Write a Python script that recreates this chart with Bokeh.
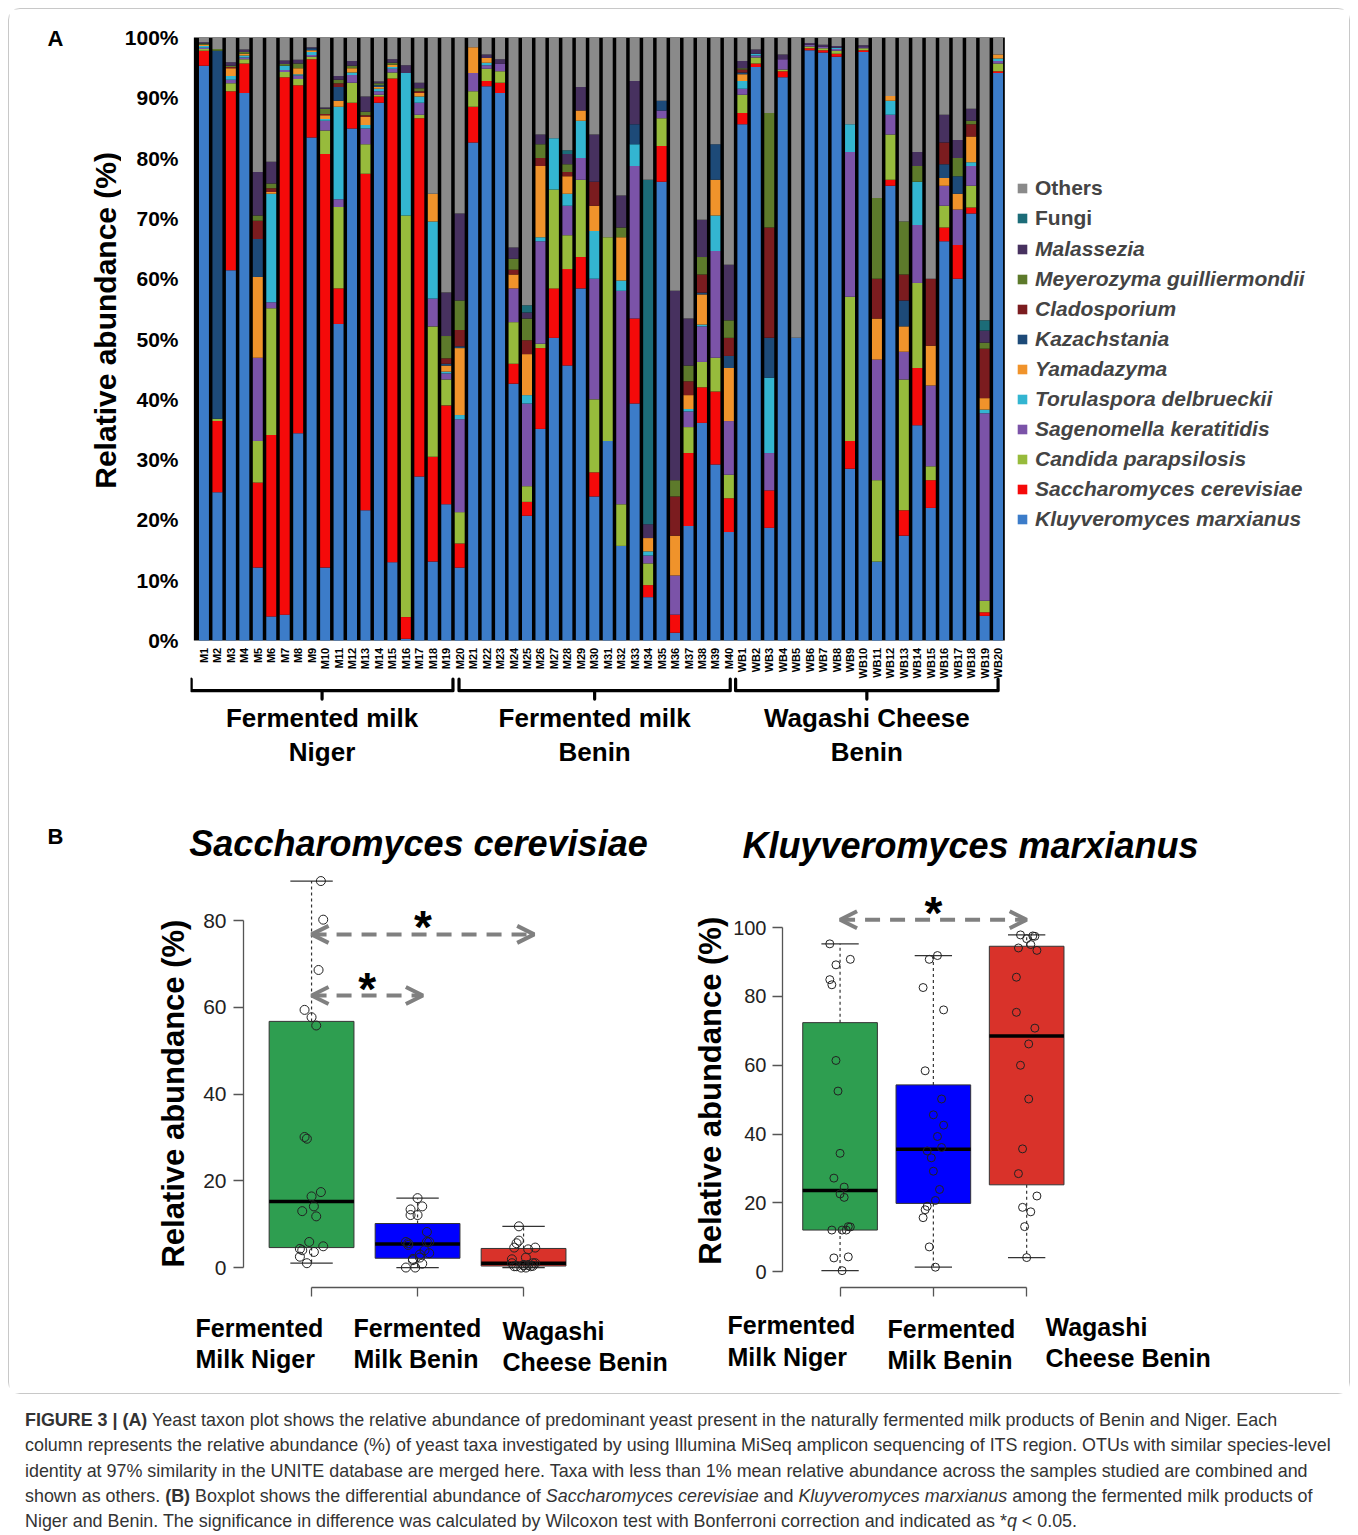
import math
from bokeh.plotting import figure
from bokeh.models import (ColumnDataSource, Range1d, FixedTicker, PrintfTickFormatter,
                          Legend, LegendItem, Arrow, OpenHead, Div)
from bokeh.layouts import column, row
from bokeh.core.properties import value
from bokeh.embed import file_html
from bokeh.resources import INLINE

FONT = "Liberation Sans"

# ---------------- data ----------------
samples = ["M1", "M2", "M3", "M4", "M5", "M6", "M7", "M8", "M9", "M10",
           "M11", "M12", "M13", "M14", "M15", "M16", "M17", "M18", "M19", "M20",
           "M21", "M22", "M23", "M24", "M25", "M26", "M27", "M28", "M29", "M30",
           "M31", "M32", "M33", "M34", "M35", "M36", "M37", "M38", "M39", "M40",
           "WB1", "WB2", "WB3", "WB4", "WB5", "WB6", "WB7", "WB8", "WB9", "WB10",
           "WB11", "WB12", "WB13", "WB14", "WB15", "WB16", "WB17", "WB18", "WB19", "WB20"]

kluyveromyces = [95.3, 24.6, 61.4, 90.8, 12.1, 4.0, 4.3, 34.4, 83.4, 12.1,
                 52.5, 84.9, 21.6, 89.2, 13.0, 0.3, 27.2, 13.1, 22.6, 12.1,
                 82.6, 91.9, 90.8, 42.6, 20.7, 35.1, 50.2, 45.6, 58.4, 23.9,
                 33.1, 15.7, 39.3, 7.2, 76.1, 1.3, 19.0, 36.1, 29.2, 18.0,
                 85.6, 95.1, 18.7, 93.4, 50.2, 97.9, 97.5, 96.8, 28.5, 97.6,
                 13.1, 75.4, 17.4, 35.7, 22.0, 66.2, 60.0, 70.8, 4.1, 94.1]
saccharomyces = [2.5, 11.8, 29.7, 4.9, 14.1, 30.1, 89.1, 57.7, 13.0, 68.6,
                 5.9, 4.3, 55.8, 1.0, 80.2, 3.6, 59.4, 17.4, 16.4, 4.0,
                 5.9, 0.9, 1.7, 3.3, 2.3, 13.4, 8.2, 16.0, 5.2, 4.0,
                 0.0, 0.0, 14.1, 2.0, 5.9, 3.0, 12.1, 5.9, 12.1, 5.6,
                 1.9, 0.6, 6.2, 1.0, 0.0, 0.3, 0.4, 0.5, 4.6, 0.3,
                 0.0, 1.0, 4.2, 9.5, 4.6, 2.3, 5.6, 1.0, 0.6, 0.3]
candida = [0.3, 0.4, 1.3, 0.7, 6.9, 21.0, 0.9, 1.0, 0.4, 3.9,
           13.5, 3.3, 4.9, 0.3, 1.0, 66.6, 0.6, 21.6, 4.3, 5.2,
           2.6, 2.0, 1.9, 6.9, 2.6, 0.7, 16.4, 5.6, 12.8, 12.1,
           33.8, 6.9, 0.0, 3.6, 4.6, 0.0, 4.3, 4.2, 5.6, 3.9,
           3.0, 1.0, 0.0, 0.3, 0.0, 0.3, 0.3, 0.5, 23.9, 0.3,
           13.5, 7.5, 21.7, 14.1, 2.3, 3.6, 0.0, 3.6, 1.9, 1.3]
sagenomella = [0.2, 0.0, 0.6, 0.3, 13.8, 1.0, 0.3, 0.6, 0.3, 1.6,
               1.3, 1.3, 2.6, 0.6, 0.6, 0.0, 2.0, 4.6, 1.0, 15.4,
               3.0, 0.6, 1.3, 5.6, 13.7, 17.0, 0.0, 4.9, 3.6, 20.0,
               0.0, 35.4, 25.3, 1.3, 1.3, 6.5, 2.6, 5.9, 17.7, 8.9,
               1.0, 0.3, 6.2, 1.7, 0.0, 0.3, 0.3, 0.3, 24.0, 0.2,
               20.0, 3.3, 4.6, 9.6, 13.4, 3.3, 5.9, 3.3, 31.1, 0.4]
torulaspora = [0.3, 0.0, 0.6, 0.3, 0.0, 18.0, 0.7, 0.2, 0.5, 0.3,
               15.3, 0.4, 0.6, 0.4, 0.3, 23.6, 1.0, 12.8, 0.3, 0.7,
               0.0, 0.4, 0.0, 0.0, 1.4, 0.7, 8.5, 2.0, 6.2, 7.9,
               0.0, 1.7, 3.6, 0.7, 0.0, 0.0, 0.4, 0.3, 5.9, 0.0,
               1.3, 0.3, 12.5, 0.0, 0.0, 0.0, 0.0, 0.2, 4.6, 0.0,
               0.0, 2.3, 0.0, 7.2, 0.0, 0.0, 0.0, 0.6, 0.6, 0.4]
yamadazyma = [0.2, 0.0, 1.3, 0.3, 13.4, 0.3, 0.0, 1.0, 0.3, 0.6,
              1.0, 0.7, 1.3, 0.3, 0.4, 0.0, 0.6, 4.6, 1.0, 11.1,
              4.3, 0.8, 0.0, 2.3, 6.8, 11.8, 0.0, 2.9, 1.7, 4.2,
              0.0, 7.2, 0.0, 2.2, 0.0, 6.6, 2.3, 5.0, 5.9, 8.8,
              1.1, 0.0, 0.0, 0.0, 0.0, 0.0, 0.0, 0.0, 0.0, 0.0,
              6.8, 0.8, 4.2, 0.0, 6.6, 1.3, 2.6, 4.3, 1.9, 0.7]
kazachstania = [0.0, 61.0, 0.0, 0.0, 6.3, 0.0, 0.0, 0.0, 0.3, 0.0,
                2.3, 0.0, 0.0, 0.3, 0.0, 0.0, 0.0, 0.0, 0.3, 0.3,
                0.0, 0.0, 0.0, 0.0, 0.0, 0.0, 0.0, 0.0, 0.0, 0.0,
                0.0, 0.0, 3.3, 0.0, 1.6, 0.0, 0.0, 0.3, 5.9, 2.0,
                0.3, 0.0, 6.6, 0.0, 0.0, 0.0, 0.0, 0.0, 0.0, 0.0,
                0.0, 0.0, 4.3, 0.0, 0.0, 2.3, 2.9, 0.0, 0.0, 0.0]
cladosporium = [0.0, 0.0, 0.2, 0.0, 3.0, 0.6, 0.0, 0.0, 0.0, 0.2,
                0.6, 0.0, 0.3, 0.0, 0.0, 0.0, 0.3, 0.0, 0.9, 2.7,
                0.0, 0.0, 0.0, 0.8, 2.3, 1.3, 0.0, 0.7, 0.0, 4.0,
                0.0, 0.0, 0.0, 0.0, 0.0, 6.5, 2.3, 3.0, 0.0, 3.0,
                0.5, 0.0, 18.3, 0.0, 0.0, 0.0, 0.0, 0.0, 0.0, 0.0,
                6.6, 0.0, 4.3, 0.0, 11.1, 3.6, 0.0, 2.0, 8.2, 0.0]
meyerozyma = [0.2, 0.3, 0.2, 0.3, 0.9, 0.8, 0.3, 0.8, 0.0, 0.9,
              0.6, 0.4, 0.6, 0.3, 0.3, 0.0, 0.5, 0.0, 3.7, 4.9,
              0.0, 0.0, 0.0, 1.8, 3.6, 2.3, 0.0, 1.3, 0.0, 0.0,
              0.0, 1.6, 0.0, 0.0, 0.0, 2.7, 2.6, 2.9, 0.0, 2.9,
              0.2, 0.0, 19.0, 0.0, 0.0, 0.0, 0.0, 0.0, 0.0, 0.0,
              13.4, 0.0, 8.8, 2.6, 0.0, 0.0, 3.0, 0.6, 1.0, 0.0]
malassezia = [0.2, 0.0, 0.6, 0.4, 7.2, 3.6, 0.6, 0.6, 0.2, 0.2,
              0.6, 0.8, 2.5, 0.3, 0.6, 1.3, 0.9, 0.0, 7.2, 14.4,
              0.0, 0.6, 0.7, 1.9, 1.0, 1.6, 0.0, 1.7, 3.9, 7.8,
              0.0, 5.3, 7.2, 2.3, 0.0, 31.4, 7.8, 6.2, 0.0, 9.2,
              1.2, 0.7, 0.0, 0.8, 0.0, 0.3, 0.3, 0.3, 0.0, 0.3,
              0.0, 0.0, 0.0, 2.3, 0.0, 4.6, 3.0, 2.0, 2.0, 0.0]
fungi = [0.0, 0.0, 0.0, 0.0, 0.0, 0.0, 0.0, 0.0, 0.0, 0.0,
         0.0, 0.0, 0.0, 0.0, 0.0, 0.0, 0.0, 0.0, 0.0, 0.0,
         0.0, 0.0, 0.0, 0.0, 1.2, 0.0, 0.0, 0.6, 0.0, 0.0,
         0.0, 0.0, 0.0, 57.1, 0.0, 0.0, 0.0, 0.0, 0.0, 0.0,
         0.0, 0.0, 0.0, 0.0, 0.0, 0.0, 0.0, 0.0, 0.0, 0.0,
         0.0, 0.0, 0.0, 0.0, 0.0, 0.0, 0.0, 0.0, 1.7, 0.0]
others = [0.8, 1.9, 4.1, 2.0, 22.3, 20.6, 3.8, 3.7, 1.6, 11.6,
          6.4, 3.9, 9.8, 7.3, 3.6, 4.6, 7.5, 25.9, 42.3, 29.2,
          1.6, 2.8, 3.6, 34.8, 44.4, 16.1, 16.7, 18.7, 8.2, 16.1,
          33.1, 26.2, 7.2, 23.6, 10.5, 42.0, 46.6, 30.2, 17.7, 37.7,
          3.9, 2.0, 12.5, 2.8, 49.8, 0.9, 1.2, 1.4, 14.4, 1.3,
          26.6, 9.7, 30.5, 19.0, 40.0, 12.8, 17.0, 11.8, 46.9, 2.8]

taxa = ["Kluyveromyces marxianus", "Saccharomyces cerevisiae", "Candida parapsilosis",
        "Sagenomella keratitidis", "Torulaspora delbrueckii", "Yamadazyma", "Kazachstania",
        "Cladosporium", "Meyerozyma guilliermondii", "Malassezia", "Fungi", "Others"]
series = [kluyveromyces, saccharomyces, candida, sagenomella, torulaspora, yamadazyma,
          kazachstania, cladosporium, meyerozyma, malassezia, fungi, others]
taxa_colors = ["#3c7cc9", "#f50a0a", "#97bb3c", "#7b53a8", "#33b5d1", "#f0932b",
               "#1d4a78", "#7b1c1f", "#5d7a2b", "#47315f", "#1c6c78", "#8a8a8a"]

bracket_groups = [("Fermented milk", "Niger"), ("Fermented milk", "Benin"), ("Wagashi Cheese", "Benin")]
bracket_spans = [(-0.95, 18.5), (18.95, 39.1), (39.5, 59.0)]
box_groups = [("Fermented", "Milk Niger"), ("Fermented", "Milk Benin"), ("Wagashi", "Cheese Benin")]
box_group_sizes = [20, 20, 20]
box_colors = ["#2e9e50", "#0000ff", "#d9322a"]
box_titles = ["Saccharomyces cerevisiae", "Kluyveromyces marxianus"]
y_title = "Relative abundance (%)"


# ---------------- helpers ----------------
def strip(x0, x1, y0, y1, y_range=None):
    """A text-only figure; x follows page pixels, y follows page pixels or a shared range."""
    yr = y_range if y_range is not None else Range1d(y1, y0)
    p = figure(width=x1 - x0, height=y1 - y0, x_range=Range1d(x0, x1), y_range=yr,
               x_axis_location=None, y_axis_location=None, toolbar_location=None,
               output_backend="svg", min_border=0, title_location=None)
    p.outline_line_color = None
    p.grid.visible = False
    return p


def strip_text(p, x, y, text, size, style="bold", align="center", angle=0.0):
    p.text(x=[x], y=[y], text=[text], text_font=value(FONT), text_font_style=style,
           text_font_size=size, text_align=align, text_baseline="middle", angle=angle,
           text_color="black")


# ---------------- panel A ----------------
keys = ["s%d" % i for i in range(len(taxa))]
dataA = {"x": list(range(len(samples))), "name": samples}
for k, s in zip(keys, series):
    dataA[k] = s
srcA = ColumnDataSource(dataA)

pA = figure(width=1228, height=781, x_range=Range1d(-1.0, 84.44), y_range=Range1d(-23.2, 102.82),
            x_axis_location=None, toolbar_location=None, output_backend="svg",
            min_border_left=68, min_border_right=9, min_border_top=11, min_border_bottom=10,
            title_location=None)
pA.outline_line_color = None
pA.grid.visible = False
ya = pA.yaxis[0]
ya.ticker = FixedTicker(ticks=[0, 10, 20, 30, 40, 50, 60, 70, 80, 90, 100])
ya.formatter = PrintfTickFormatter(format="%d%%")
ya.bounds = (0, 100)
ya.axis_line_color = None
ya.major_tick_line_color = None
ya.minor_tick_line_color = None
ya.major_tick_out = 0
ya.major_tick_in = 0
ya.major_label_standoff = 12
ya.major_label_text_font = FONT
ya.major_label_text_font_style = "bold"
ya.major_label_text_font_size = "21px"
ya.major_label_text_color = "black"

# strip left of panel A shares its vertical scale (frames are aligned in the row)
stripA = strip(9, 121, 9, 790, y_range=pA.y_range)
strip_text(stripA, 55, 99.8, "A", "22px")
strip_text(stripA, 105, 53.1, y_title, "30px", angle=math.pi / 2)

pA.quad(left=-0.75, right=len(samples) - 0.5, bottom=0, top=100, fill_color="black", line_color=None)
rs = pA.vbar_stack(keys, x="x", width=0.74, source=srcA, fill_color=taxa_colors, line_color=None)

pA.text(x="x", y=-1.2, text="name", source=srcA, angle=math.pi / 2, text_align="right",
        text_baseline="middle", text_font=value(FONT), text_font_style="bold",
        text_font_size="11px", text_color="black")

bxs, bys, gx = [], [], []
for (a, b) in bracket_spans:
    bxs.append([a, a, b, b])
    bys.append([-6.4, -8.3, -8.3, -6.4])
    c = (a + b) / 2
    bxs.append([c, c])
    bys.append([-8.3, -9.7])
    gx.append(c)
pA.multi_line(bxs, bys, line_color="black", line_width=3.2, line_join="round", line_cap="round")
pA.text(x=gx, y=[-12.9] * 3, text=[g[0] for g in bracket_groups], text_align="center",
        text_baseline="middle", text_font=value(FONT), text_font_style="bold", text_font_size="26px")
pA.text(x=gx, y=[-18.4] * 3, text=[g[1] for g in bracket_groups], text_align="center",
        text_baseline="middle", text_font=value(FONT), text_font_style="bold", text_font_size="26px")


def make_legend(idx, style, vy):
    lg = Legend(items=[LegendItem(label=taxa[i], renderers=[rs[i]]) for i in idx],
                location=(826, vy), orientation="vertical", padding=0, margin=0, spacing=0,
                label_height=30, glyph_height=12, glyph_width=12, label_standoff=7,
                border_line_color=None, background_fill_alpha=0,
                label_text_font=FONT, label_text_font_style=style, label_text_font_size="21px")
    pA.add_layout(lg)


make_legend([11, 10], "bold", 547)
make_legend(list(range(9, -1, -1)), "bold italic", 246)


# ---------------- panel B ----------------
def fivenum(v):
    s = sorted(v)
    n = len(s)
    n4 = math.floor((n + 3) / 2) / 2
    d = [1, n4, (n + 1) / 2, n + 1 - n4, n]
    return [0.5 * (s[math.floor(di) - 1] + s[math.ceil(di) - 1]) for di in d]


def box_stats(v):
    _, q1, med, q3, _ = fivenum(v)
    iqr = q3 - q1
    lo = min(x for x in v if x >= q1 - 1.5 * iqr)
    hi = max(x for x in v if x <= q3 + 1.5 * iqr)
    return q1, med, q3, lo, hi


slices = []
start = 0
for n in box_group_sizes:
    slices.append((start, start + n))
    start += n


def box_fig(width, xr, yr, borders, yticks, tick_size, standoff):
    p = figure(width=width, height=430, x_range=Range1d(*xr), y_range=Range1d(*yr),
               toolbar_location=None, output_backend="svg", title_location=None,
               min_border_left=borders[0], min_border_right=borders[1],
               min_border_top=borders[2], min_border_bottom=borders[3])
    p.grid.visible = False
    p.outline_line_color = None
    xa = p.xaxis[0]
    # group positions carry tick marks only (names are written below as two-line labels)
    xa.ticker = FixedTicker(ticks=[], minor_ticks=[1, 2, 3])
    xa.bounds = (1, 3)
    xa.major_label_standoff = 0
    xa.minor_tick_out = 9
    xa.minor_tick_in = 0
    xa.minor_tick_line_color = "#555555"
    xa.minor_tick_line_width = 1.3
    xa.axis_line_color = "#555555"
    xa.axis_line_width = 1.3
    yax = p.yaxis[0]
    yax.ticker = FixedTicker(ticks=yticks)
    yax.bounds = (yticks[0], yticks[-1])
    yax.major_tick_out = 10
    yax.major_tick_in = 0
    yax.minor_tick_line_color = None
    yax.axis_line_color = "#555555"
    yax.major_tick_line_color = "#555555"
    yax.axis_line_width = 1.3
    yax.major_tick_line_width = 1.3
    yax.major_label_standoff = standoff
    yax.major_label_text_font = FONT
    yax.major_label_text_font_size = tick_size
    yax.major_label_text_color = "#222222"
    return p


def draw_boxes(p, vals, pt_size):
    xs = [1, 2, 3]
    st = [box_stats(vals[a:b]) for (a, b) in slices]
    q1 = [s[0] for s in st]
    med = [s[1] for s in st]
    q3 = [s[2] for s in st]
    lo = [s[3] for s in st]
    hi = [s[4] for s in st]
    p.segment(x0=xs, y0=q3, x1=xs, y1=hi, line_color="#333333", line_width=1.2, line_dash="3 3")
    p.segment(x0=xs, y0=q1, x1=xs, y1=lo, line_color="#333333", line_width=1.2, line_dash="3 3")
    p.segment(x0=[x - 0.2 for x in xs], y0=hi, x1=[x + 0.2 for x in xs], y1=hi, line_color="#333333", line_width=1.2)
    p.segment(x0=[x - 0.2 for x in xs], y0=lo, x1=[x + 0.2 for x in xs], y1=lo, line_color="#333333", line_width=1.2)
    p.vbar(x=xs, bottom=q1, top=q3, width=0.8, fill_color=box_colors, line_color="#333333", line_width=1)
    p.segment(x0=[x - 0.4 for x in xs], y0=med, x1=[x + 0.4 for x in xs], y1=med, line_color="black", line_width=3.5)
    px, py = [], []
    for gi, (a, b) in enumerate(slices):
        for k, v in enumerate(vals[a:b]):
            px.append(gi + 1 + (((k * 7) % 11) - 5) * 0.022)
            py.append(v)
    p.scatter(x=px, y=py, size=pt_size, marker="circle", fill_color=None, line_color="#222222", line_width=1)


def sig_arrow(p, x0, x1, y):
    head = dict(size=17, line_color="#808080", line_width=4)
    p.add_layout(Arrow(start=OpenHead(**head), end=OpenHead(**head), x_start=x0, y_start=y,
                       x_end=x1, y_end=y, line_color="#808080", line_width=4, line_dash="15 10"))
    p.text(x=[(x0 + x1) / 2], y=[y], text=["*"], text_font=value(FONT), text_font_style="bold",
           text_font_size="46px", text_align="center", text_baseline="middle", text_color="black",
           y_offset=-7)


# title strip above the boxplots
stripBT = strip(9, 1349, 790, 870)
strip_text(stripBT, 55, 836, "B", "22px")
strip_text(stripBT, 418, 843, box_titles[0], "36px", "bold italic")
strip_text(stripBT, 970, 845, box_titles[1], "36px", "bold italic")

# left: Saccharomyces cerevisiae
pB1 = box_fig(492, (0.358, 3.622), (-4.6, 90.38), (45, 101, 5, 13), [0, 20, 40, 60, 80], "21px", 7)
draw_boxes(pB1, saccharomyces, 9)
sig_arrow(pB1, 1.0, 3.1, 76.8)
sig_arrow(pB1, 1.0, 2.05, 62.7)
stripB1 = strip(9, 198, 870, 1300, y_range=pB1.y_range)
strip_text(stripB1, 173, 40.1, y_title, "31px", angle=math.pi / 2)

# right: Kluyveromyces marxianus
pB2 = box_fig(619, (0.383, 3.62), (-4.6, 115.17), (50, 265, 5, 13), [0, 20, 40, 60, 80, 100], "20px", 6)
draw_boxes(pB2, kluyveromyces, 8)
sig_arrow(pB2, 1.0, 3.0, 102.3)
stripB2 = strip(690, 730, 870, 1300, y_range=pB2.y_range)
strip_text(stripB2, 710, 52.6, y_title, "31px", angle=math.pi / 2)

# category labels under the boxplots
stripBC = strip(9, 1349, 1300, 1393)
cat_pos = [(195, 1327, 1358), (353, 1327, 1358), (502, 1330, 1361),
           (727, 1324, 1356), (887, 1328, 1359), (1045, 1326, 1357)]
for i, (cx, cy1, cy2) in enumerate(cat_pos):
    l1, l2 = box_groups[i % 3]
    strip_text(stripBC, cx, cy1, l1, "25px", align="left")
    strip_text(stripBC, cx, cy2, l2, "25px", align="left")

# ---------------- caption ----------------
caption_lines = [
    "<b>FIGURE 3 | (A)</b> Yeast taxon plot shows the relative abundance of predominant yeast present in the naturally fermented milk products of Benin and Niger. Each",
    "column represents the relative abundance (%) of yeast taxa investigated by using Illumina MiSeq amplicon sequencing of ITS region. OTUs with similar species-level",
    "identity at 97% similarity in the UNITE database are merged here. Taxa with less than 1% mean relative abundance across the samples studied are combined and",
    "shown as others. <b>(B)</b> Boxplot shows the differential abundance of <i>Saccharomyces cerevisiae</i> and <i>Kluyveromyces marxianus</i> among the fermented milk products of",
    "Niger and Benin. The significance in difference was calculated by Wilcoxon test with Bonferroni correction and indicated as *<i>q</i> &lt; 0.05.",
]
caption = Div(text=('<div style="font-family:\'Liberation Sans\',Arial,sans-serif;font-size:17.9px;'
                    'line-height:25.3px;color:#333333;white-space:nowrap;padding:14px 0 0 25px;">'
                    + "<br>".join(caption_lines) + "</div>"),
              width=1358, height=141, margin=(0, 0, 0, 0))

rowA = row(stripA, pA, spacing=0)
rowB = row(stripB1, pB1, stripB2, pB2, spacing=0)
inner = column(rowA, stripBT, rowB, stripBC, spacing=0, margin=(8, 0, 0, 8),
               styles={"border": "1px solid #c8c8c8", "border-radius": "12px"})
layout = column(inner, caption, spacing=0)

open("out.html", "w").write(file_html(layout, INLINE, title="Figure 3"))
